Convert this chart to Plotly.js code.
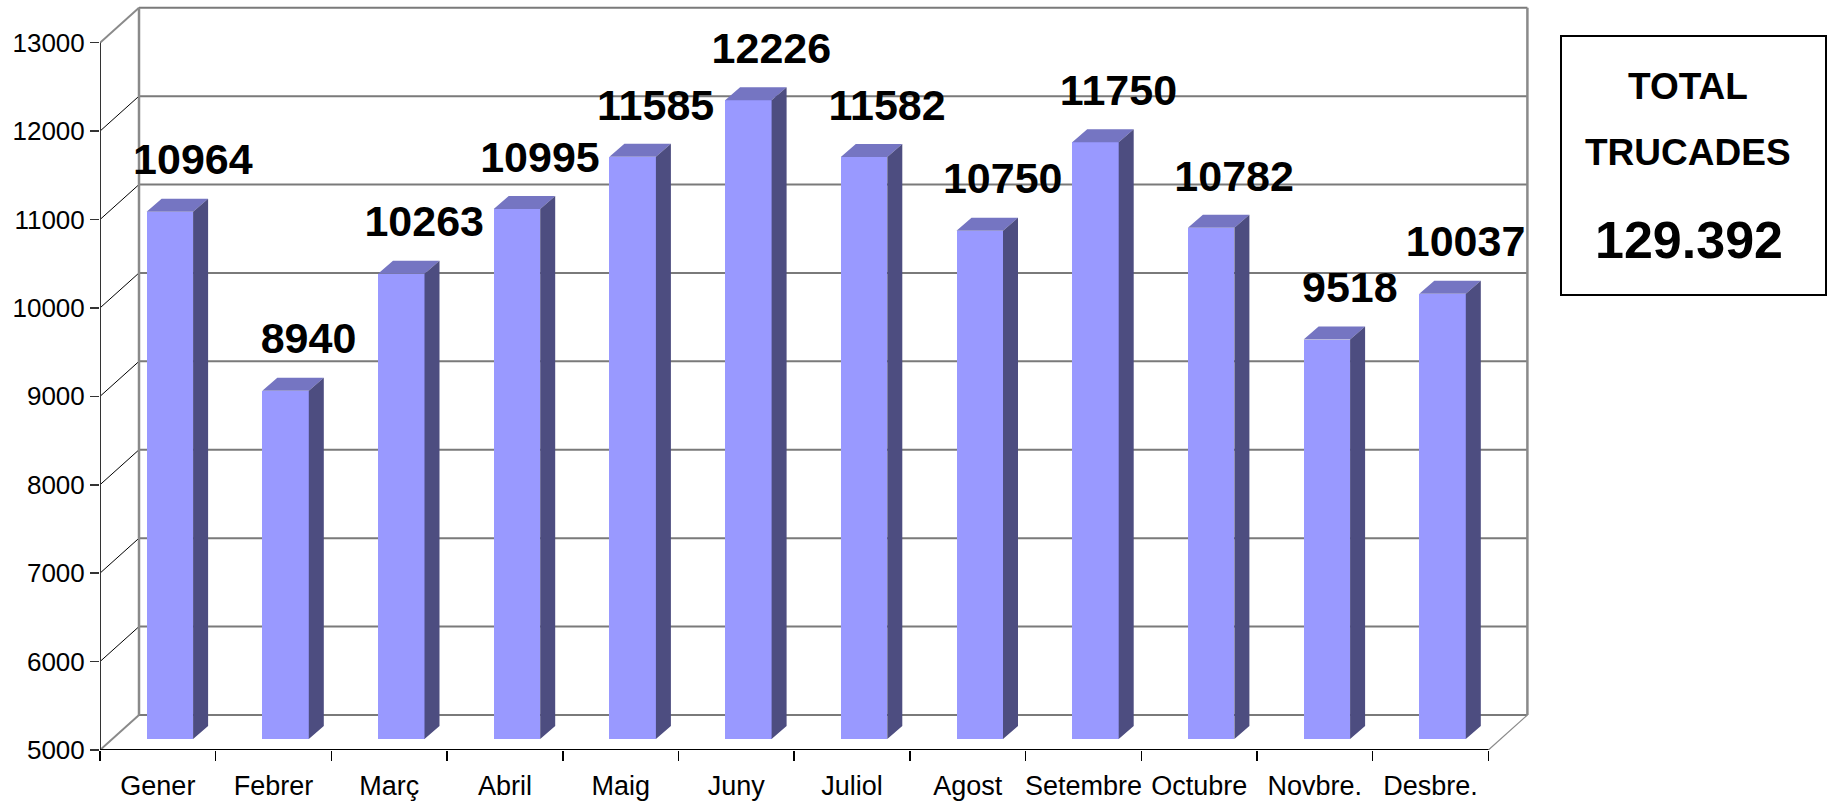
<!DOCTYPE html>
<html>
<head>
<meta charset="utf-8">
<script src="https://cdn.plot.ly/plotly-3.0.1.min.js"></script>
<style>
html,body{margin:0;padding:0;background:#fff;}
#chart{width:1829px;height:803px;}
</style>
</head>
<body>
<div id="chart"></div>
<script>
// ---- data ----
const months = ['Gener','Febrer','Març','Abril','Maig','Juny','Juliol','Agost','Setembre','Octubre','Novbre.','Desbre.'];
const calls = [10964, 8940, 10263, 10995, 11585, 12226, 11582, 10750, 11750, 10782, 9518, 10037];
const yTicks = [5000, 6000, 7000, 8000, 9000, 10000, 11000, 12000, 13000];
const boxTitle1 = 'TOTAL';
const boxTitle2 = 'TRUCADES';

// ---- geometry (pixels -> data units) ----
const PLOT_L = 100, PLOT_B = 750, PLOT_R = 1540, W = 1829, H = 803;
const PX_CAT = 115.7, PX_1000 = 88.41;
const cx = p => p / PX_CAT;
const vy = p => p / PX_1000 * 1000;
const YMIN = yTicks[0], YTOP = yTicks[yTicks.length - 1];
const XMIN = -0.5, XEND = months.length - 0.5;
const XMAX = XMIN + cx(PLOT_R - PLOT_L);
const YMAX = YMIN + vy(PLOT_B);
const DXB = cx(39), DYB = vy(35);      // back wall depth
const DXF = cx(12), DYF = vy(11);      // bar front-plane depth
const BW = cx(46.5);                   // bar width
const DDX = cx(15), DDY = vy(13);      // bar depth

const idx = months.map((m, i) => i);
const total = calls.reduce((a, b) => a + b, 0);
const totalText = total.toString().replace(/\B(?=(\d{3})+(?!\d))/g, '.');

// ---- bar faces ----
const topX = [], topY = [], sideX = [], sideY = [];
calls.forEach((v, i) => {
  const l = i - BW / 2, r = i + BW / 2;
  topX.push(l, r, r + DDX, l + DDX, l, null);
  topY.push(v, v, v + DDY, v + DDY, v, null);
  sideX.push(r, r + DDX, r + DDX, r, r, null);
  sideY.push(YMIN, YMIN + DDY, v + DDY, v, YMIN, null);
});

const font = 'Liberation Sans, Arial, sans-serif';

const traces = [
  {type: 'bar', x: idx, y: calls.map(v => v - YMIN), base: YMIN,
   width: BW, marker: {color: '#9999ff', line: {width: 0}},
   xaxis: 'x2', yaxis: 'y2', hoverinfo: 'skip', showlegend: false},
  {type: 'scatter', mode: 'lines', x: topX, y: topY, fill: 'toself',
   fillcolor: '#7575c2', line: {width: 0, color: '#7575c2'},
   xaxis: 'x2', yaxis: 'y2', hoverinfo: 'skip', showlegend: false},
  {type: 'scatter', mode: 'lines', x: sideX, y: sideY, fill: 'toself',
   fillcolor: '#4d4d80', line: {width: 0, color: '#4d4d80'},
   xaxis: 'x2', yaxis: 'y2', hoverinfo: 'skip', showlegend: false},
  {type: 'scatter', mode: 'text', x: idx.map(i => i + cx(23)),
   y: calls.map(v => v + vy(48)), text: calls.map(String),
   textposition: 'middle center', cliponaxis: false,
   textfont: {family: font, size: 43, color: '#000', weight: 'bold'},
   xaxis: 'x2', yaxis: 'y2', hoverinfo: 'skip', showlegend: false}
];

// ---- 3D frame shapes ----
const shapes = [];
const line = (x0, y0, x1, y1, color, width) => shapes.push({
  type: 'line', xref: 'x', yref: 'y', x0, y0, x1, y1, layer: 'below',
  line: {color, width}
});
yTicks.forEach((t, k) => {
  const edge = (k === 0 || k === yTicks.length - 1);
  line(XMIN + DXB, t + DYB, XEND + DXB, t + DYB, '#7a7a7a', 2);
  line(XMIN, t, XMIN + DXB, t + DYB, edge ? '#8a8a8a' : '#000', edge ? 2 : 1);
});
line(XMIN + DXB, YMIN + DYB, XMIN + DXB, YTOP + DYB, '#8a8a8a', 2.5);
line(XEND + DXB, YMIN + DYB, XEND + DXB, YTOP + DYB, '#8a8a8a', 2.5);
line(XEND, YMIN, XEND + DXB, YMIN + DYB, '#8a8a8a', 1.2);
line(XMIN, YMIN, XMIN, YTOP, '#333', 2);
line(XMIN, YMIN, XEND, YMIN, '#000', 2);

// total box
const px2x = p => (p - PLOT_L) / (PLOT_R - PLOT_L);
const py2y = p => (PLOT_B - p) / PLOT_B;
shapes.push({type: 'rect', xref: 'paper', yref: 'paper',
  x0: px2x(1561), x1: px2x(1826), y0: py2y(295), y1: py2y(36),
  line: {color: '#000', width: 2}, fillcolor: 'rgba(0,0,0,0)'});

const annotations = [
  {text: boxTitle1, x: px2x(1688), y: py2y(86), size: 37},
  {text: boxTitle2, x: px2x(1688), y: py2y(153), size: 37},
  {text: totalText, x: px2x(1689), y: py2y(240), size: 52}
].map(a => ({text: a.text, xref: 'paper', yref: 'paper', x: a.x, y: a.y,
  xanchor: 'center', yanchor: 'middle', showarrow: false,
  font: {family: font, size: a.size, color: '#000', weight: 'bold'}}));

const layout = {
  width: W, height: H,
  margin: {l: PLOT_L, r: W - PLOT_R, t: 0, b: H - PLOT_B},
  paper_bgcolor: '#fff', plot_bgcolor: 'rgba(0,0,0,0)',
  showlegend: false, bargap: 0,
  font: {family: font, color: '#000'},
  xaxis: {range: [XMIN, XMAX], tickmode: 'array', tickvals: idx, ticktext: months,
    ticks: 'outside', ticklen: 12, tickcolor: 'rgba(0,0,0,0)',
    showgrid: false, zeroline: false, showline: false,
    tickfont: {size: 27, family: font, color: '#000'},
    minor: {tickmode: 'array', tickvals: idx.map(i => i - 0.5).concat([XEND]),
      ticks: 'outside', ticklen: 10, tickcolor: '#000', tickwidth: 1.5, showgrid: false},
    fixedrange: true},
  yaxis: {range: [YMIN, YMAX], tickmode: 'array', tickvals: yTicks,
    ticktext: yTicks.map(String), ticks: 'outside', ticklen: 9, tickcolor: '#333',
    tickwidth: 1.5, showgrid: false, zeroline: false, showline: false,
    tickfont: {size: 26, family: font, color: '#000'}, fixedrange: true},
  xaxis2: {overlaying: 'x', range: [XMIN - DXF, XMAX - DXF], visible: false, fixedrange: true},
  yaxis2: {overlaying: 'y', range: [YMIN - DYF, YMAX - DYF], visible: false, fixedrange: true},
  shapes, annotations
};

Plotly.newPlot('chart', traces, layout, {displayModeBar: false, staticPlot: true});
</script>
</body>
</html>
